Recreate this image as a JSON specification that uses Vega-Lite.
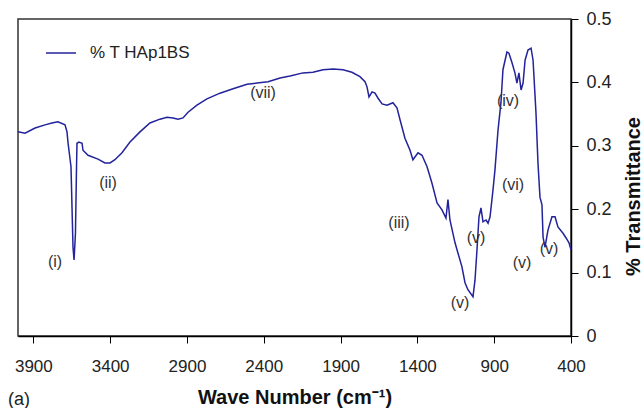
{
  "$schema": "https://vega.github.io/schema/vega-lite/v6.json",
  "width": 553,
  "height": 317,
  "autosize": {"type": "none"},
  "padding": {"left": 18, "top": 19, "right": 71, "bottom": 72},
  "background": "white",
  "config": {"view": {"stroke": "#333", "strokeWidth": 1.5}, "font": "Liberation Sans"},
  "title": {"text": "(a)", "orient": "bottom", "anchor": "start", "frame": "group", "offset": -16, "dx": -10, "fontSize": 18, "fontWeight": "normal", "color": "#222", "font": "Liberation Sans"},
  "datasets": {
    "spectrum": [
      {"wavenumber": 4000, "transmittance": 0.322},
      {"wavenumber": 3954, "transmittance": 0.320},
      {"wavenumber": 3889, "transmittance": 0.328},
      {"wavenumber": 3824, "transmittance": 0.333},
      {"wavenumber": 3779, "transmittance": 0.336},
      {"wavenumber": 3740, "transmittance": 0.338},
      {"wavenumber": 3694, "transmittance": 0.333},
      {"wavenumber": 3681, "transmittance": 0.322},
      {"wavenumber": 3674, "transmittance": 0.304},
      {"wavenumber": 3655, "transmittance": 0.267},
      {"wavenumber": 3648, "transmittance": 0.199},
      {"wavenumber": 3642, "transmittance": 0.140},
      {"wavenumber": 3635, "transmittance": 0.120},
      {"wavenumber": 3626, "transmittance": 0.162},
      {"wavenumber": 3619, "transmittance": 0.267},
      {"wavenumber": 3616, "transmittance": 0.304},
      {"wavenumber": 3603, "transmittance": 0.306},
      {"wavenumber": 3583, "transmittance": 0.304},
      {"wavenumber": 3577, "transmittance": 0.293},
      {"wavenumber": 3544, "transmittance": 0.285},
      {"wavenumber": 3479, "transmittance": 0.279},
      {"wavenumber": 3434, "transmittance": 0.273},
      {"wavenumber": 3401, "transmittance": 0.273},
      {"wavenumber": 3369, "transmittance": 0.278},
      {"wavenumber": 3323, "transmittance": 0.289},
      {"wavenumber": 3271, "transmittance": 0.306},
      {"wavenumber": 3206, "transmittance": 0.322},
      {"wavenumber": 3141, "transmittance": 0.336},
      {"wavenumber": 3076, "transmittance": 0.342},
      {"wavenumber": 3030, "transmittance": 0.345},
      {"wavenumber": 2991, "transmittance": 0.344},
      {"wavenumber": 2958, "transmittance": 0.342},
      {"wavenumber": 2926, "transmittance": 0.344},
      {"wavenumber": 2893, "transmittance": 0.353},
      {"wavenumber": 2835, "transmittance": 0.364},
      {"wavenumber": 2770, "transmittance": 0.374},
      {"wavenumber": 2685, "transmittance": 0.383},
      {"wavenumber": 2600, "transmittance": 0.390},
      {"wavenumber": 2509, "transmittance": 0.397},
      {"wavenumber": 2444, "transmittance": 0.399},
      {"wavenumber": 2372, "transmittance": 0.401},
      {"wavenumber": 2294, "transmittance": 0.407},
      {"wavenumber": 2229, "transmittance": 0.410},
      {"wavenumber": 2145, "transmittance": 0.415},
      {"wavenumber": 2080, "transmittance": 0.416},
      {"wavenumber": 2014, "transmittance": 0.420},
      {"wavenumber": 1949, "transmittance": 0.421},
      {"wavenumber": 1884, "transmittance": 0.420},
      {"wavenumber": 1826, "transmittance": 0.416},
      {"wavenumber": 1774, "transmittance": 0.409},
      {"wavenumber": 1741, "transmittance": 0.401},
      {"wavenumber": 1728, "transmittance": 0.393},
      {"wavenumber": 1715, "transmittance": 0.377},
      {"wavenumber": 1695, "transmittance": 0.385},
      {"wavenumber": 1676, "transmittance": 0.383},
      {"wavenumber": 1656, "transmittance": 0.375},
      {"wavenumber": 1630, "transmittance": 0.366},
      {"wavenumber": 1598, "transmittance": 0.364},
      {"wavenumber": 1559, "transmittance": 0.368},
      {"wavenumber": 1533, "transmittance": 0.360},
      {"wavenumber": 1513, "transmittance": 0.341},
      {"wavenumber": 1481, "transmittance": 0.312},
      {"wavenumber": 1448, "transmittance": 0.293},
      {"wavenumber": 1429, "transmittance": 0.278},
      {"wavenumber": 1396, "transmittance": 0.289},
      {"wavenumber": 1370, "transmittance": 0.285},
      {"wavenumber": 1337, "transmittance": 0.267},
      {"wavenumber": 1305, "transmittance": 0.241},
      {"wavenumber": 1272, "transmittance": 0.210},
      {"wavenumber": 1240, "transmittance": 0.199},
      {"wavenumber": 1214, "transmittance": 0.186},
      {"wavenumber": 1201, "transmittance": 0.215},
      {"wavenumber": 1188, "transmittance": 0.183},
      {"wavenumber": 1155, "transmittance": 0.147},
      {"wavenumber": 1136, "transmittance": 0.131},
      {"wavenumber": 1110, "transmittance": 0.109},
      {"wavenumber": 1090, "transmittance": 0.084},
      {"wavenumber": 1071, "transmittance": 0.073},
      {"wavenumber": 1038, "transmittance": 0.062},
      {"wavenumber": 1025, "transmittance": 0.088},
      {"wavenumber": 1012, "transmittance": 0.136},
      {"wavenumber": 999, "transmittance": 0.188},
      {"wavenumber": 986, "transmittance": 0.202},
      {"wavenumber": 973, "transmittance": 0.180},
      {"wavenumber": 953, "transmittance": 0.183},
      {"wavenumber": 940, "transmittance": 0.178},
      {"wavenumber": 927, "transmittance": 0.188},
      {"wavenumber": 908, "transmittance": 0.230},
      {"wavenumber": 895, "transmittance": 0.262},
      {"wavenumber": 875, "transmittance": 0.325},
      {"wavenumber": 856, "transmittance": 0.368},
      {"wavenumber": 843, "transmittance": 0.420},
      {"wavenumber": 817, "transmittance": 0.448},
      {"wavenumber": 804, "transmittance": 0.446},
      {"wavenumber": 784, "transmittance": 0.431},
      {"wavenumber": 765, "transmittance": 0.415},
      {"wavenumber": 752, "transmittance": 0.399},
      {"wavenumber": 739, "transmittance": 0.415},
      {"wavenumber": 725, "transmittance": 0.388},
      {"wavenumber": 712, "transmittance": 0.399},
      {"wavenumber": 699, "transmittance": 0.435},
      {"wavenumber": 680, "transmittance": 0.451},
      {"wavenumber": 660, "transmittance": 0.454},
      {"wavenumber": 647, "transmittance": 0.435},
      {"wavenumber": 628, "transmittance": 0.352},
      {"wavenumber": 615, "transmittance": 0.273},
      {"wavenumber": 602, "transmittance": 0.219},
      {"wavenumber": 589, "transmittance": 0.207},
      {"wavenumber": 582, "transmittance": 0.156},
      {"wavenumber": 569, "transmittance": 0.140},
      {"wavenumber": 550, "transmittance": 0.167},
      {"wavenumber": 524, "transmittance": 0.188},
      {"wavenumber": 504, "transmittance": 0.188},
      {"wavenumber": 485, "transmittance": 0.172},
      {"wavenumber": 452, "transmittance": 0.162},
      {"wavenumber": 433, "transmittance": 0.155},
      {"wavenumber": 413, "transmittance": 0.147},
      {"wavenumber": 400, "transmittance": 0.136}
    ],
    "labels": [
      {"wavenumber": 3759, "transmittance": 0.117, "label": "(i)"},
      {"wavenumber": 3414, "transmittance": 0.241, "label": "(ii)"},
      {"wavenumber": 2405, "transmittance": 0.383, "label": "(vii)"},
      {"wavenumber": 1520, "transmittance": 0.178, "label": "(iii)"},
      {"wavenumber": 1122, "transmittance": 0.052, "label": "(v)"},
      {"wavenumber": 1018, "transmittance": 0.155, "label": "(v)"},
      {"wavenumber": 777, "transmittance": 0.238, "label": "(vi)"},
      {"wavenumber": 810, "transmittance": 0.371, "label": "(iv)"},
      {"wavenumber": 719, "transmittance": 0.115, "label": "(v)"},
      {"wavenumber": 543, "transmittance": 0.137, "label": "(v)"}
    ]
  },
  "layer": [
    {
      "data": {"name": "spectrum"},
      "mark": {"type": "line", "strokeWidth": 1.5},
      "encoding": {
        "x": {
          "field": "wavenumber", "type": "quantitative",
          "scale": {"domain": [4000, 400], "zero": false, "nice": false},
          "axis": {
            "values": [3900, 3400, 2900, 2400, 1900, 1400, 900, 400],
            "format": "d", "title": "Wave Number (cm⁻¹)", "grid": false,
            "tickSize": 7, "tickColor": "#000", "domainColor": "#000", "domainWidth": 1.5,
            "labelFontSize": 17, "labelColor": "#222", "labelPadding": 15, "labelFlush": false,
            "titleFontSize": 20, "titleFontWeight": "bold", "titleColor": "#111", "titlePadding": 13
          }
        },
        "y": {
          "field": "transmittance", "type": "quantitative",
          "scale": {"domain": [0, 0.5], "zero": false, "nice": false},
          "axis": {
            "orient": "right", "values": [0, 0.1, 0.2, 0.3, 0.4, 0.5], "format": ".1~f",
            "grid": false, "tickSize": 7, "tickColor": "#000", "domainColor": "#000", "domainWidth": 1.5,
            "labelFontSize": 18, "labelColor": "#222", "labelPadding": 8, "labelFlush": false,
            "title": "% Transmittance", "titleAngle": 270, "titleFontSize": 20, "titleFontWeight": "bold",
            "titleColor": "#111", "titleX": 62, "titleY": 177, "titleBaseline": "middle", "titleAlign": "center"
          }
        },
        "color": {
          "datum": "% T HAp1BS",
          "scale": {"range": ["#23239b"]},
          "legend": {
            "orient": "none", "legendX": 27, "legendY": 18, "title": null,
            "symbolType": "stroke", "symbolSize": 900, "symbolStrokeWidth": 1.5,
            "labelFontSize": 17, "labelOffset": 13, "labelColor": "#222"
          }
        }
      }
    },
    {
      "data": {"name": "labels"},
      "mark": {"type": "text", "fontSize": 16, "color": "#333"},
      "encoding": {
        "x": {"field": "wavenumber", "type": "quantitative", "scale": {"domain": [4000, 400], "zero": false, "nice": false}},
        "y": {"field": "transmittance", "type": "quantitative", "scale": {"domain": [0, 0.5], "zero": false, "nice": false}},
        "text": {"field": "label"}
      }
    }
  ]
}
